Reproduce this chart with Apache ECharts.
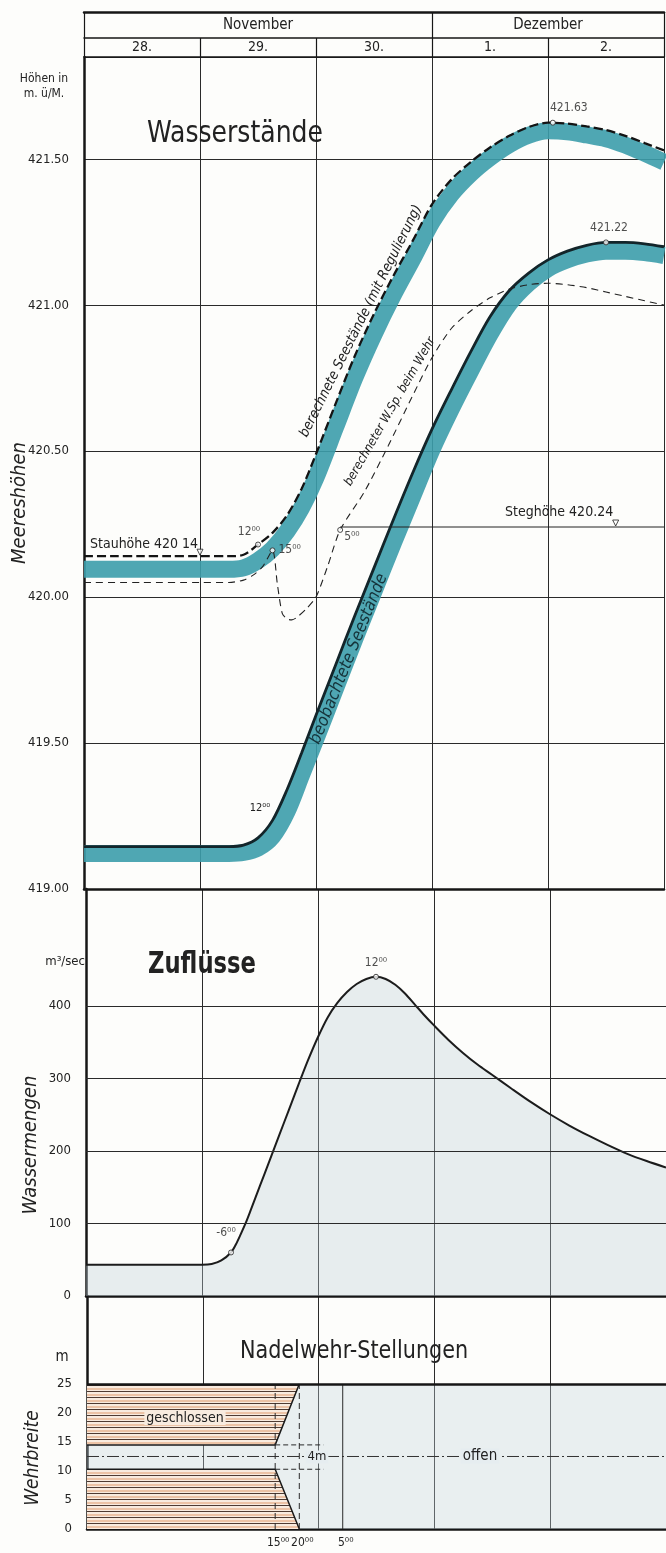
<!DOCTYPE html>
<html>
<head>
<meta charset="utf-8">
<script src="https://cdn.jsdelivr.net/npm/echarts@6.0.0/dist/echarts.min.js"></script>
<style>
html,body{margin:0;padding:0;background:#fdfdfb;}
#chart{width:666px;height:1553px;}
</style>
</head>
<body>
<div id="chart"></div>
<script>
// ---------------- data ----------------
const dayLabels = ['28.', '29.', '30.', '1.', '2.'];
const dayCenters = [12, 36, 60, 84, 108];
const dayBounds = [0, 24, 48, 72, 96, 120];
const monthLabels = ['November', 'Dezember'];
const monthCenters = [36, 96];
const monthBounds = [0, 72, 120];

const levelTicks = [419, 419.5, 420, 420.5, 421, 421.5];
const flowTicks = [0, 100, 200, 300, 400];
const weirTicks = [0, 5, 10, 15, 20, 25];
const timeTicks = [39, 44, 53];
const timeTickLabels = ['15⁰⁰', '20⁰⁰', '5⁰⁰'];

// hours since 28 Nov 00:00
const levelHours = [0,6,12,18,24,30,33,36,39,42,45,48,52,56,60,64,68,72,76,80,84,88,92,96,100,104,108,112,116,120];
// berechnete Seestände (mit Regulierung) – dashed line
const regulatedLevels = [420.14,420.14,420.14,420.14,420.14,420.14,420.145,420.18,420.22,420.28,420.37,420.49,420.66,420.825,420.97,421.10,421.22,421.345,421.43,421.49,421.54,421.58,421.61,421.625,421.622,421.612,421.60,421.58,421.555,421.53];
// teal band along the computed lake levels
const regulatedBand = [420.095,420.095,420.095,420.095,420.095,420.095,420.10,420.125,420.165,420.225,420.305,420.41,420.58,420.75,420.90,421.035,421.158,421.285,421.38,421.45,421.505,421.55,421.582,421.597,421.594,421.583,421.57,421.548,421.52,421.49];
// beobachtete Seestände – solid line
const observedLevels = [419.145,419.145,419.145,419.145,419.145,419.145,419.15,419.175,419.235,419.34,419.465,419.595,419.765,419.935,420.10,420.265,420.425,420.575,420.71,420.84,420.96,421.05,421.11,421.155,421.185,421.205,421.215,421.215,421.21,421.20];
// teal band along the observed lake levels
const observedBand = [419.122,419.122,419.122,419.122,419.122,419.122,419.125,419.14,419.18,419.265,419.39,419.515,419.685,419.855,420.02,420.185,420.345,420.505,420.645,420.775,420.90,421.005,421.075,421.125,421.155,421.175,421.185,421.185,421.18,421.17];
// berechneter W.Sp. beim Wehr – thin dashed line
const weirLevelHours = [0,12,24,30,33,35,37,39,40,41,42,43,44,46,48,50.5,53,58,63,68,72,76,80,84,88,92,96,100,104,108,112,116,120];
const weirLevelValues = [420.05,420.05,420.05,420.05,420.058,420.075,420.105,420.16,420.045,419.945,419.925,419.922,419.93,419.96,420.0,420.11,420.23,420.36,420.52,420.69,420.82,420.92,420.98,421.025,421.055,421.07,421.075,421.07,421.06,421.045,421.03,421.015,421.0];

const stegHeight = 420.24;
const stegStart = 53;
const gaugeHours = [24, 110];
const gaugeLevels = [420.14, 420.24];

const levelMarkerHours = [36, 39, 53, 97, 108];
const levelMarkerValues = [420.18, 420.16, 420.23, 421.625, 421.215];
const levelMarkerTexts = ['12⁰⁰', '15⁰⁰', '5⁰⁰', '421.63', '421.22'];

// Zuflüsse m3/sec
const flowHours = [0,6,12,18,24,26,28,30,31,32,33,34,36,38,40,42,44,46,48,50,52,54,56,58,60,62,64,66,68,70,72,75,78,81,84,88,92,96,100,104,108,112,116,120];
const flowValues = [43,43,43,43,43,44,49,60,71,85,100,117,152,187,222,257,292,326,357,384,404,419,430,437,440,437,429,417,402,387,373,353,335,319,305,286,267.5,250.5,235,221,208,196,186,177];
const flowMarkerHours = [30, 60];
const flowMarkerValues = [60, 440];
const flowMarkerTexts = ['-6⁰⁰', '12⁰⁰'];

// Nadelwehr-Stellungen (m)
const weirHours = [0, 39, 44];
const weirLowerClosed = [10.3, 10.3, 0];
const weirUpperClosed = [14.5, 14.5, 25];
const weirFullWidth = 25;
const weirCenter = 12.5;
const weirGateTimes = [39, 44, 53];
const weirGapEdges = [14.5, 10.3];
const weirGapEnd = 49;

// ---------------- styling ----------------
const FONT = '"Liberation Sans Narrow","DejaVu Sans Condensed","Roboto Condensed",Roboto,sans-serif';
const INK = '#222';
const LINE = '#161616';
const TEAL = '#3c9dab';
const zip = (a, b) => a.map((x, i) => [x, b[i]]);

const hatch = document.createElement('canvas');
hatch.width = 8; hatch.height = 6;
(function () {
  const g = hatch.getContext('2d');
  g.fillStyle = '#f8ebdf'; g.fillRect(0, 0, 8, 6);
  g.fillStyle = '#ecc3a6'; g.fillRect(0, 2, 8, 2);
  g.fillStyle = '#4f3b32'; g.fillRect(0, 5, 8, 1);
})();

function baseX(gi, extra) {
  return Object.assign({
    type: 'value', gridIndex: gi, min: 0, max: 120, interval: 24, position: 'bottom',
    axisLine: { show: true, onZero: false, lineStyle: { color: LINE, width: 2.5 } },
    axisTick: { show: false }, axisLabel: { show: false },
    splitLine: { show: true, lineStyle: { color: '#2a2a2a', width: 1 } }
  }, extra || {});
}
function topX(offset, tickVals, tickLen, labelVals, labels, fontSize, margin, lineW) {
  return {
    type: 'value', gridIndex: 0, min: 0, max: 120, interval: 24, position: 'top', offset: offset,
    axisLine: { show: true, onZero: false, lineStyle: { color: LINE, width: lineW } },
    axisTick: tickVals ? { show: true, customValues: tickVals, length: tickLen, inside: false, lineStyle: { color: LINE, width: 1.2 } } : { show: false },
    axisLabel: labelVals ? {
      show: true, customValues: labelVals, margin: margin, color: INK, fontFamily: FONT, fontSize: fontSize,
      formatter: v => labels[labelVals.indexOf(v)] || ''
    } : { show: false },
    splitLine: { show: false }
  };
}
function yBase(gi, min, max, interval, ticks, fmt) {
  return {
    type: 'value', gridIndex: gi, min: min, max: max, interval: interval,
    axisLine: { show: true, onZero: false, lineStyle: { color: LINE, width: 2.5 } },
    axisTick: { show: false },
    axisLabel: { customValues: ticks, formatter: fmt, color: INK, fontFamily: FONT, fontSize: 13, margin: 15 },
    splitLine: { show: false }
  };
}

const levelY = yBase(0, 419, 421.85, 0.5, levelTicks, v => v.toFixed(2));
levelY.splitLine = { show: true, lineStyle: { color: '#2a2a2a', width: 1 } };

const lineS = (xi, data, style, z, smooth) => ({
  type: 'line', xAxisIndex: xi, yAxisIndex: xi, data: data, showSymbol: false, silent: true,
  smooth: smooth === undefined ? 0.3 : smooth, lineStyle: style, z: z
});

const series = [
  lineS(0, zip(levelHours, regulatedBand), { color: TEAL, width: 17, cap: 'butt', opacity: 0.9 }, 2),
  lineS(0, zip(levelHours, observedBand), { color: TEAL, width: 17, cap: 'butt', opacity: 0.9 }, 2),
  lineS(0, zip(levelHours, regulatedLevels), { color: '#141414', width: 2.3, type: [9, 4] }, 4),
  lineS(0, zip(levelHours, observedLevels), { color: '#13252a', width: 2.8 }, 4),
  lineS(0, zip(weirLevelHours, weirLevelValues), { color: '#222', width: 1.1, type: [7, 5] }, 4, 0.25),
  lineS(0, [[stegStart, stegHeight], [120, stegHeight]], { color: '#222', width: 1 }, 3, false),
  {
    type: 'scatter', xAxisIndex: 0, yAxisIndex: 0, z: 6, silent: true,
    symbol: 'circle', symbolSize: 5,
    itemStyle: { color: '#fff', borderColor: '#222', borderWidth: 1 },
    label: { show: true, formatter: '{b}', color: INK, fontFamily: FONT, fontSize: 12 },
    data: levelMarkerHours.map((h, i) => ({
      name: levelMarkerTexts[i], value: [h, levelMarkerValues[i]],
      label: [
        { position: 'top', offset: [-9, 1] },
        { position: 'right', distance: 3 },
        { position: 'right', distance: 1, offset: [0, 7] },
        { position: 'top', offset: [16, -1] },
        { position: 'top', offset: [3, -1] }
      ][i]
    }))
  },
  {
    type: 'scatter', xAxisIndex: 0, yAxisIndex: 0, z: 6, silent: true,
    symbol: 'triangle', symbolRotate: 180, symbolSize: 6, symbolOffset: [0, -4],
    itemStyle: { color: '#fff', borderColor: '#222', borderWidth: 1 },
    data: zip(gaugeHours, gaugeLevels)
  },
  // flow
  Object.assign(lineS(1, zip(flowHours, flowValues), { color: '#1c1c1c', width: 2 }, 2, 0.3), {
    areaStyle: { color: 'rgba(190,208,216,0.5)' },
    markLine: {
      silent: true, symbol: ['none', 'none'], label: { show: false },
      lineStyle: { color: '#2a2a2a', width: 1, type: 'solid' },
      data: flowTicks.filter(v => v > 0).map(v => ({ yAxis: v }))
    }
  }),
  {
    type: 'scatter', xAxisIndex: 1, yAxisIndex: 1, z: 6, silent: true,
    symbol: 'circle', symbolSize: 5,
    itemStyle: { color: '#fff', borderColor: '#222', borderWidth: 1 },
    label: { show: true, formatter: '{b}', color: INK, fontFamily: FONT, fontSize: 12 },
    data: flowMarkerHours.map((h, i) => ({
      name: flowMarkerTexts[i], value: [h, flowMarkerValues[i]],
      label: [{ position: 'top', offset: [-5, -6] }, { position: 'top', distance: 5 }][i]
    }))
  },
  // weir
  Object.assign(lineS(2, [[0, weirFullWidth], [120, weirFullWidth]], { width: 0, opacity: 0 }, 1, false), {
    areaStyle: { color: 'rgba(196,212,220,0.5)' },
    markLine: {
      silent: true, symbol: ['none', 'none'], label: { show: false },
      lineStyle: { color: LINE, width: 2.5, type: 'solid' },
      data: [{ yAxis: weirFullWidth }]
    }
  }),
  Object.assign(lineS(2, zip(weirHours, weirLowerClosed), { color: '#1a1a1a', width: 1.5 }, 2, false), {
    areaStyle: { color: { image: hatch, repeat: 'repeat' }, opacity: 1 }
  }),
  Object.assign(lineS(2, zip(weirHours, weirUpperClosed), { color: '#1a1a1a', width: 1.5 }, 2, false), {
    areaStyle: { color: { image: hatch, repeat: 'repeat' }, opacity: 1, origin: weirFullWidth }
  }),
  lineS(2, [[0, weirCenter], [120, weirCenter]], { color: '#333', width: 1, type: [12, 3, 2, 3] }, 3, false)
]
  .concat(weirGateTimes.map((t, i) => lineS(2, [[t, 0], [t, weirFullWidth]],
    { color: '#2a2a2a', width: 1, type: i < 2 ? [6, 4] : 'solid' }, 3, false)))
  .concat(weirGapEdges.map(v => lineS(2, [[weirGateTimes[0], v], [weirGapEnd, v]],
    { color: '#2a2a2a', width: 1, type: [5, 3] }, 3, false)));

const option = {
  animation: false,
  backgroundColor: '#fdfdfb',
  grid: [
    { left: 84, width: 580, top: 57, height: 832 },
    { left: 86, width: 580, top: 889, height: 407 },
    { left: 87, width: 580, top: 1296, height: 233 }
  ],
  xAxis: [
    baseX(0),
    baseX(1),
    baseX(2, {
      axisLabel: {
        show: true, customValues: timeTicks, margin: 8, color: INK, fontFamily: FONT, fontSize: 12,
        padding: [0, 0, 0, 6],
        formatter: v => timeTickLabels[timeTicks.indexOf(v)] || ''
      }
    }),
    topX(0, dayBounds, 19, dayCenters, dayLabels, 14, 3, 1.5),
    topX(19, monthBounds, 26, monthCenters, monthLabels, 15, 5, 1.5),
    topX(45, null, 0, null, null, 0, 0, 2.5)
  ],
  yAxis: [
    levelY,
    yBase(1, 0, 561, 100, flowTicks, v => String(v)),
    yBase(2, 0, 40.17, 5, weirTicks, v => String(v))
  ],
  series: series
};

const chart = echarts.init(document.getElementById('chart'), null, { renderer: 'canvas', width: 666, height: 1553 });
chart.setOption(option);

// ---------------- annotations ----------------
const P = (g, h, v) => chart.convertToPixel({ gridIndex: g }, [h, v]);
function T(x, y, text, size, o) {
  o = o || {};
  return {
    type: 'text', x: x, y: y, rotation: (o.rot || 0) * Math.PI / 180, scaleX: o.sx || 1, z: 100, silent: true,
    style: {
      text: text, fill: o.fill || INK, fontSize: size, fontFamily: o.family || FONT,
      fontStyle: o.italic ? 'italic' : 'normal', fontWeight: o.weight || 'normal',
      align: o.align || 'center', verticalAlign: o.va || 'middle', lineHeight: o.lh,
      backgroundColor: o.bg, padding: o.bg ? [0, 2] : 0
    }
  };
}
const curveLabels = [
  { text: 'berechnete Seestände (mit Regulierung)', h: 57.3, v: 420.945, rot: 63.5, size: 14 },
  { text: 'berechneter W.Sp. beim Wehr', h: 63.3, v: 420.635, rot: 60, size: 12.5 },
  { text: 'beobachtete Seestände', h: 54.8, v: 419.788, rot: 68, size: 17, fill: '#15333a' }
];
const elements = [
  T(147, 134, 'Wasserstände', 31, { align: 'left', sx: 0.9 }),
  T(148, 965, 'Zuflüsse', 30, { align: 'left', weight: 'bold', sx: 0.84 }),
  T(240, 1352, 'Nadelwehr-Stellungen', 24, { align: 'left', sx: 0.96 }),
  T(20, 503, 'Meereshöhen', 20, { rot: 90, italic: true }),
  T(31, 1145, 'Wassermengen', 20, { rot: 90, italic: true }),
  T(33, 1458, 'Wehrbreite', 19, { rot: 90, italic: true }),
  T(44, 86, 'Höhen in\nm. ü/M.', 12, { lh: 15 }),
  T(85, 962, 'm³/sec', 13, { align: 'right' }),
  T(62, 1357, 'm', 15),
  T(90, 544, 'Stauhöhe 420 14', 14, { align: 'left' }),
  T(505, 512, 'Steghöhe 420.24', 14, { align: 'left' }),
  T(260, 808, '12⁰⁰', 11),
  T(185, 1418, 'geschlossen', 14, { bg: '#f8ebdf' }),
  T(317, 1457, '4m', 13, { bg: '#e6edf0' }),
  T(480, 1456, 'offen', 15, { bg: '#e6edf0' })
];
curveLabels.forEach(c => {
  const p = P(0, c.h, c.v);
  elements.push(T(p[0], p[1], c.text, c.size, { rot: c.rot, italic: true, fill: c.fill }));
});
chart.setOption({ graphic: { elements: elements } });
</script>
</body>
</html>
